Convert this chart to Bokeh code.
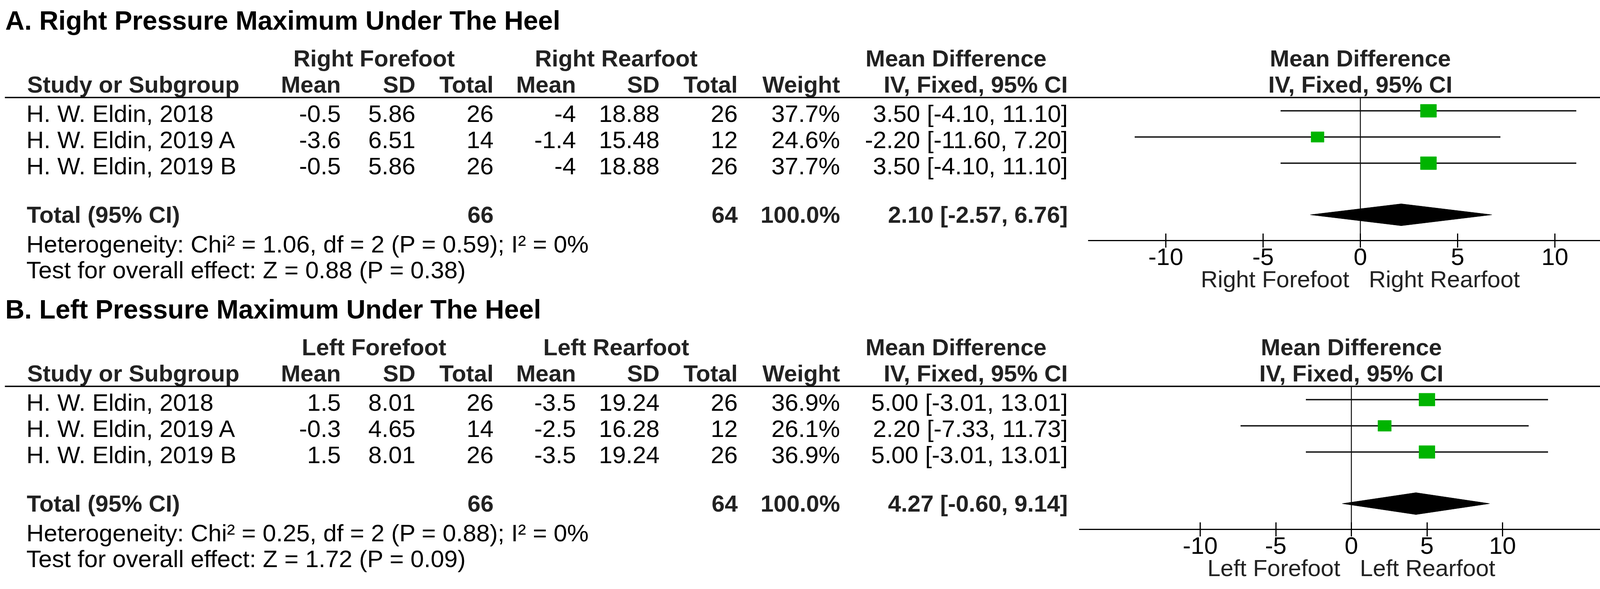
import math
from bokeh.plotting import figure
from bokeh.models import ColumnDataSource, Range1d, LinearAxis, FixedTicker
from bokeh.layouts import column
from bokeh.embed import file_html
from bokeh.resources import INLINE
from bokeh.core.properties import value

# ---------------- data ----------------
studies = ["H. W. Eldin, 2018", "H. W. Eldin, 2019 A", "H. W. Eldin, 2019 B"]

A_title = "A. Right Pressure Maximum Under The Heel"
A_group1 = "Right Forefoot"
A_group2 = "Right Rearfoot"
A_g1_mean = [-0.5, -3.6, -0.5]
A_g1_sd = [5.86, 6.51, 5.86]
A_g1_n = [26, 14, 26]
A_g2_mean = [-4, -1.4, -4]
A_g2_sd = [18.88, 15.48, 18.88]
A_g2_n = [26, 12, 26]
A_weight = [37.7, 24.6, 37.7]
A_md = [3.50, -2.20, 3.50]
A_lo = [-4.10, -11.60, -4.10]
A_hi = [11.10, 7.20, 11.10]
A_total = [2.10, -2.57, 6.76]
A_het = "Heterogeneity: Chi\u00b2 = 1.06, df = 2 (P = 0.59); I\u00b2 = 0%"
A_test = "Test for overall effect: Z = 0.88 (P = 0.38)"

B_title = "B. Left Pressure Maximum Under The Heel"
B_group1 = "Left Forefoot"
B_group2 = "Left Rearfoot"
B_g1_mean = [1.5, -0.3, 1.5]
B_g1_sd = [8.01, 4.65, 8.01]
B_g1_n = [26, 14, 26]
B_g2_mean = [-3.5, -2.5, -3.5]
B_g2_sd = [19.24, 16.28, 19.24]
B_g2_n = [26, 12, 26]
B_weight = [36.9, 26.1, 36.9]
B_md = [5.00, 2.20, 5.00]
B_lo = [-3.01, -7.33, -3.01]
B_hi = [13.01, 11.73, 13.01]
B_total = [4.27, -0.60, 9.14]
B_het = "Heterogeneity: Chi\u00b2 = 0.25, df = 2 (P = 0.88); I\u00b2 = 0%"
B_test = "Test for overall effect: Z = 1.72 (P = 0.09)"

total_weight_label = "100.0%"
axis_ticks = [-10, -5, 0, 5, 10]
axis_tick_labels = ["-10", "-5", "0", "5", "10"]

# ---------------- style / layout ----------------
FONT = "Liberation Sans"
FS = "62px"      # body text
BFS = "60px"     # bold headers / totals
TFS = "68px"     # panel titles
AFS = "60px"     # axis side labels
GREEN = "#00B400"
HEAD_COLOR = "#222222"
PAGE_W = 4255
X0, X1 = 8, 8 + PAGE_W


def fmt(v):
    return f"{v:g}"


def ci_text(m, lo, hi):
    return f"{m:.2f} [{lo:.2f}, {hi:.2f}]"


def txt(p, xs, ys, texts, align, bold=False, size=FS, color="black", rng="default"):
    src = ColumnDataSource(dict(x=xs, y=ys, text=texts))
    p.text(x="x", y="y", text="text", source=src, text_align=align,
           text_baseline="middle", text_font=value(FONT), text_font_size=size,
           text_font_style="bold" if bold else "normal", text_color=color,
           x_range_name=rng)


def panel(title, g1, g2, g1m, g1s, g1n, g2m, g2s, g2n, wt, md, lo, hi, tot, het, test,
          top, height, dy, zero_px, ppu, bound, hline_end):
    md_range = Range1d((X0 - zero_px) / ppu, (X1 - zero_px) / ppu)
    p = figure(width=PAGE_W, height=height, x_range=Range1d(X0, X1),
               y_range=Range1d(top + height, top), extra_x_ranges={"md": md_range},
               x_axis_location=None, y_axis_location=None, min_border=0,
               toolbar_location=None, output_backend="svg", outline_line_color=None)
    p.grid.visible = False

    # ---- table ----
    rows_y = [298 + dy, 365 + dy, 432 + dy]
    line_y = 257 + dy
    txt(p, [21], [59 + dy], [title], "left", bold=True, size=TFS)
    txt(p, [965, 1585, 2455], [157 + dy] * 3, [g1, g2, "Mean Difference"], "center",
        bold=True, size=BFS, color=HEAD_COLOR)
    txt(p, [77], [224 + dy], ["Study or Subgroup"], "left", bold=True, size=BFS,
        color=HEAD_COLOR)
    rights = [880, 1071, 1271, 1482, 1696, 1896, 2158, 2741]
    heads = ["Mean", "SD", "Total", "Mean", "SD", "Total", "Weight", "IV, Fixed, 95% CI"]
    txt(p, rights, [224 + dy] * len(rights), heads, "right", bold=True, size=BFS,
        color=HEAD_COLOR)
    p.segment(x0=[20], x1=[hline_end], y0=[line_y], y1=[line_y],
              line_color="black", line_width=3.5)

    txt(p, [75] * 3, rows_y, studies, "left")
    cols = [
        [fmt(v) for v in g1m], [fmt(v) for v in g1s], [str(v) for v in g1n],
        [fmt(v) for v in g2m], [fmt(v) for v in g2s], [str(v) for v in g2n],
        [f"{v:.1f}%" for v in wt],
        [ci_text(m, a, b) for m, a, b in zip(md, lo, hi)],
    ]
    for xr, vals in zip(rights, cols):
        txt(p, [xr] * 3, rows_y, vals, "right")

    ty = 557 + dy
    txt(p, [76], [ty], ["Total (95% CI)"], "left", bold=True, size=BFS, color=HEAD_COLOR)
    txt(p, [1271, 1896, 2158, 2741], [ty] * 4,
        [str(sum(g1n)), str(sum(g2n)), total_weight_label, ci_text(*tot)], "right",
        bold=True, size=BFS, color=HEAD_COLOR)
    txt(p, [75, 75], [632 + dy, 698 + dy], [het, test], "left")

    # ---- forest ----
    axis_y = 623 + dy
    p.segment(x0=[0], x1=[0], y0=[line_y], y1=[axis_y], line_color="#111111",
              line_width=2.5, x_range_name="md")
    ci_y = [y - 7 for y in rows_y]
    p.segment(x0=lo, x1=hi, y0=ci_y, y1=ci_y, line_color="#111111", line_width=3.5,
              x_range_name="md")
    sw = [41 * math.sqrt(w / 37.7) for w in wt]
    sh = [33 * math.sqrt(w / 37.7) for w in wt]
    src = ColumnDataSource(dict(x=md, y=ci_y, w=sw, h=sh))
    p.rect(x="x", y="y", width="w", height="h", width_units="screen",
           height_units="screen", source=src, fill_color=GREEN, line_color=GREEN,
           x_range_name="md")
    est, tlo, thi = tot
    p.patch(x=[tlo, est, thi, est], y=[ty, ty - 28, ty, ty + 28], fill_color="black",
            line_color="black", x_range_name="md")
    txt(p, [0, 0], [157 + dy, 224 + dy], ["Mean Difference", "IV, Fixed, 95% CI"],
        "center", bold=True, size=BFS, color=HEAD_COLOR, rng="md")

    ax = LinearAxis(x_range_name="md", ticker=FixedTicker(ticks=axis_ticks),
                    bounds=(-bound, bound), fixed_location=axis_y,
                    major_label_overrides=dict(zip(axis_ticks, axis_tick_labels)))
    ax.axis_line_width = 3
    ax.axis_line_color = "black"
    ax.major_tick_line_width = 3
    ax.major_tick_line_color = "black"
    ax.major_tick_in = 18
    ax.major_tick_out = 18
    ax.minor_tick_line_color = None
    ax.major_label_text_font = FONT
    ax.major_label_text_font_size = FS
    ax.major_label_text_color = "black"
    ax.major_label_standoff = 2
    ax.axis_label = g1 + " \u00a0 " + g2
    ax.axis_label_text_font = FONT
    ax.axis_label_text_font_size = AFS
    ax.axis_label_text_font_style = "normal"
    ax.axis_label_text_color = HEAD_COLOR
    ax.axis_label_standoff = 0
    p.add_layout(ax, "below")
    return p


pa = panel(A_title, A_group1, A_group2, A_g1_mean, A_g1_sd, A_g1_n, A_g2_mean, A_g2_sd,
           A_g2_n, A_weight, A_md, A_lo, A_hi, A_total, A_het, A_test,
           top=8, height=752, dy=0, zero_px=3490, ppu=49.8, bound=14, hline_end=4243)
pb = panel(B_title, B_group1, B_group2, B_g1_mean, B_g1_sd, B_g1_n, B_g2_mean, B_g2_sd,
           B_g2_n, B_weight, B_md, B_lo, B_hi, B_total, B_het, B_test,
           top=760, height=739, dy=739, zero_px=3467, ppu=38.7, bound=18, hline_end=4217)

layout = column(pa, pb)
open("out.html", "w").write(file_html(layout, INLINE))
